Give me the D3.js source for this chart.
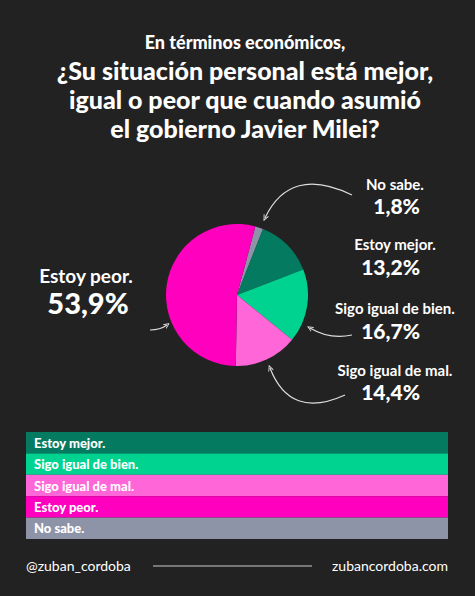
<!DOCTYPE html><html><head><meta charset="utf-8"><script src="https://cdn.jsdelivr.net/npm/d3@7"></script>
<style>body{margin:0;background:#222}text{font-family:Lato,sans-serif;fill:#fff}</style></head><body><svg id="c" width="475" height="596"></svg>
<script>
const categories=["No sabe.","Estoy mejor.","Sigo igual de bien.","Sigo igual de mal.","Estoy peor."];
const values=[1.8,13.2,16.7,14.4,53.9];
const colors=["#8e94a8","#047a60","#00d390","#ff66d8","#ff00bf"];
const legendOrder=[1,2,3,4,0];
const svg=d3.select("#c");
svg.append("rect").attr("width",475).attr("height",596).attr("fill","#222222");
const title=[["En términos económicos,",49,18],["¿Su situación personal está mejor,",80,25],["igual o peor que cuando asumió",109,25],["el gobierno Javier Milei?",138,25]];
title.forEach(([t,y,s])=>svg.append("text").attr("x",245).attr("y",y).attr("text-anchor","middle").attr("font-size",s).attr("font-weight",900).text(t));
const cx=237,cy=295,r=71;
const a0=15*Math.PI/180;
const pie=d3.pie().sort(null).startAngle(a0).endAngle(a0+2*Math.PI);
const arc=d3.arc().innerRadius(0).outerRadius(r);
svg.append("g").attr("transform",`translate(${cx},${cy})`).selectAll("path").data(pie(values)).join("path").attr("d",arc).attr("fill",(d,i)=>colors[i]);
svg.append("defs").append("marker").attr("id","ah").attr("viewBox","0 0 10 10").attr("refX",5).attr("refY",5).attr("markerWidth",5).attr("markerHeight",5).attr("orient","auto-start-reverse").append("path").attr("d","M0,1L9,5L0,9").attr("fill","none").attr("stroke","#ddd").attr("stroke-width",1.5);
const arrows=["M352,195 Q290,165 265,218","M150,330 Q160,330 167,325","M352,335 Q330,340 310,328","M345,395 Q290,420 270,368"];
arrows.forEach(d=>svg.append("path").attr("d",d).attr("fill","none").attr("stroke","#ddd").attr("stroke-width",1.2).attr("marker-end","url(#ah)"));
const fmt=v=>String(v).replace(".",",")+"%";
const labels=[[0,395,190,420,214,15,21],[1,395,250,420,275,15,21],[2,395,314,420,339,15,21],[3,395,376,420,400,15,21]];
labels.forEach(([i,x1,y1,x2,y2,s1,s2])=>{
 svg.append("text").attr("x",x1).attr("y",y1).attr("text-anchor","middle").attr("font-size",s1).attr("font-weight",700).text(categories[i]);
 svg.append("text").attr("x",x2).attr("y",y2).attr("text-anchor","end").attr("font-size",s2).attr("font-weight",900).text(fmt(values[i]));
});
svg.append("text").attr("x",86).attr("y",283).attr("text-anchor","middle").attr("font-size",19).attr("font-weight",700).text(categories[4]);
svg.append("text").attr("x",88).attr("y",314).attr("text-anchor","middle").attr("font-size",29).attr("font-weight",900).text(fmt(values[4]));
const y=d3.scaleBand().domain(legendOrder).range([432,539]);
const lg=svg.append("g");
legendOrder.forEach(i=>{
 lg.append("rect").attr("x",26).attr("y",y(i)).attr("width",422).attr("height",y.bandwidth()).attr("fill",colors[i]);
 lg.append("text").attr("x",34).attr("y",y(i)+y.bandwidth()/2+5).attr("font-size",13).attr("font-weight",900).text(categories[i]);
});
svg.append("text").attr("x",26).attr("y",571).attr("font-size",14).text("@zuban_cordoba");
svg.append("text").attr("x",448).attr("y",571).attr("text-anchor","end").attr("font-size",14).text("zubancordoba.com");
svg.append("line").attr("x1",153).attr("x2",312).attr("y1",566).attr("y2",566).attr("stroke","#ccc").attr("stroke-width",1);
</script></body></html>
